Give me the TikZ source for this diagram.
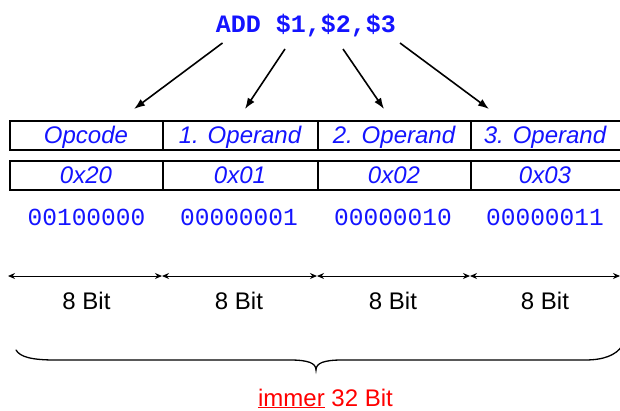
\documentclass[tikz,border=0pt]{standalone}
\usepackage{fontspec}
\setmainfont{Liberation Sans}
\setmonofont{Liberation Mono}
\usetikzlibrary{arrows.meta}
\definecolor{insblue}{RGB}{20,20,255}
\definecolor{insred}{RGB}{255,0,0}
\tikzset{
  cell/.style={draw=black, line width=2pt, minimum height=29pt, inner sep=0pt, anchor=north west},
  lbl/.style={text=insblue, font=\fontsize{24}{28}\selectfont\itshape, anchor=base, inner sep=0pt},
  bin/.style={text=insblue, font=\fontsize{24.5}{28}\selectfont\ttfamily, anchor=base, inner sep=0pt},
  bits/.style={text=black, font=\fontsize{24}{28}\selectfont, anchor=base, inner sep=0pt},
  pointer/.style={line width=1.6pt, -{Latex[length=11pt,width=8pt]}},
  span/.style={line width=1pt, {Stealth[length=7pt,width=6pt]}-{Stealth[length=7pt,width=6pt]}},
}
\begin{document}
\begin{tikzpicture}[x=1pt,y=-1pt]
\clip (0,0) rectangle (620,410);
\fill[white] (0,0) rectangle (620,410);

% instruction
\node[text=insblue, font=\fontsize{25}{28}\selectfont\ttfamily\bfseries, anchor=base, inner sep=0pt] (add) at (306,32) {ADD \$1,\$2,\$3};
\coordinate (s1) at (222.5,43);
\coordinate (s2) at (285,49);
\coordinate (s3) at (343,49);
\coordinate (s4) at (400,43);
\coordinate (e1) at (134,109);
\coordinate (e2) at (245,109);
\coordinate (e3) at (384,109);
\coordinate (e4) at (489,109);
\draw[pointer] (s1) -- (e1);
\draw[pointer] (s2) -- (e2);
\draw[pointer] (s3) -- (e3);
\draw[pointer] (s4) -- (e4);

% row 1
\node[cell, minimum width=153pt] (c1) at (9,120) {};
\node[cell, minimum width=155pt] (c2) at (162,120) {};
\node[cell, minimum width=153pt] (c3) at (317,120) {};
\node[cell, minimum width=160pt] (c4) at (470,120) {};
\node[lbl] (l1) at (86,143) {Opcode};
\node[lbl] (l2) at (240,143) {1. Operand};
\node[lbl] (l3) at (394,143) {2. Operand};
\node[lbl] (l4) at (545,143) {3. Operand};

% row 2
\node[cell, minimum width=153pt] (d1) at (9,160) {};
\node[cell, minimum width=155pt] (d2) at (162,160) {};
\node[cell, minimum width=153pt] (d3) at (317,160) {};
\node[cell, minimum width=160pt] (d4) at (470,160) {};
\node[lbl] (h1) at (86,183.5) {0x20};
\node[lbl] (h2) at (240,183.5) {0x01};
\node[lbl] (h3) at (394,183.5) {0x02};
\node[lbl] (h4) at (545,183.5) {0x03};

% binary
\node[bin] (b1) at (86.5,225) {00100000};
\node[bin] (b2) at (239,225) {00000001};
\node[bin] (b3) at (393,225) {00000010};
\node[bin] (b4) at (545,225) {00000011};

% bit spans
\coordinate (p0) at (8,276);
\coordinate (p1) at (162,276);
\coordinate (p2) at (317,276);
\coordinate (p3) at (470,276);
\coordinate (p4) at (620,276);
\draw[span] (p0) -- (p1);
\draw[span] (p1) -- (p2);
\draw[span] (p2) -- (p3);
\draw[span] (p3) -- (p4);
\node[bits] (t1) at (86.5,309) {8 Bit};
\node[bits] (t2) at (239,309) {8 Bit};
\node[bits] (t3) at (393,309) {8 Bit};
\node[bits] (t4) at (545,309) {8 Bit};

% brace
\coordinate (bl) at (16,350);
\coordinate (bt) at (316,370);
\coordinate (br) at (622,346);
\draw[line width=1.3pt, line cap=round]
  (bl) .. controls (20,357) and (32,360) .. (55,360) -- (290,360)
  .. controls (308,360) and (316,363) .. (bt)
  .. controls (316,363) and (324,360) .. (342,360) -- (585,360)
  .. controls (604,360) and (616,355) .. (br);

\node[text=insred, font=\fontsize{24}{28}\selectfont, anchor=base, inner sep=0pt] (total) at (325.5,406) {\underline{immer} 32 Bit};
\end{tikzpicture}
\end{document}
